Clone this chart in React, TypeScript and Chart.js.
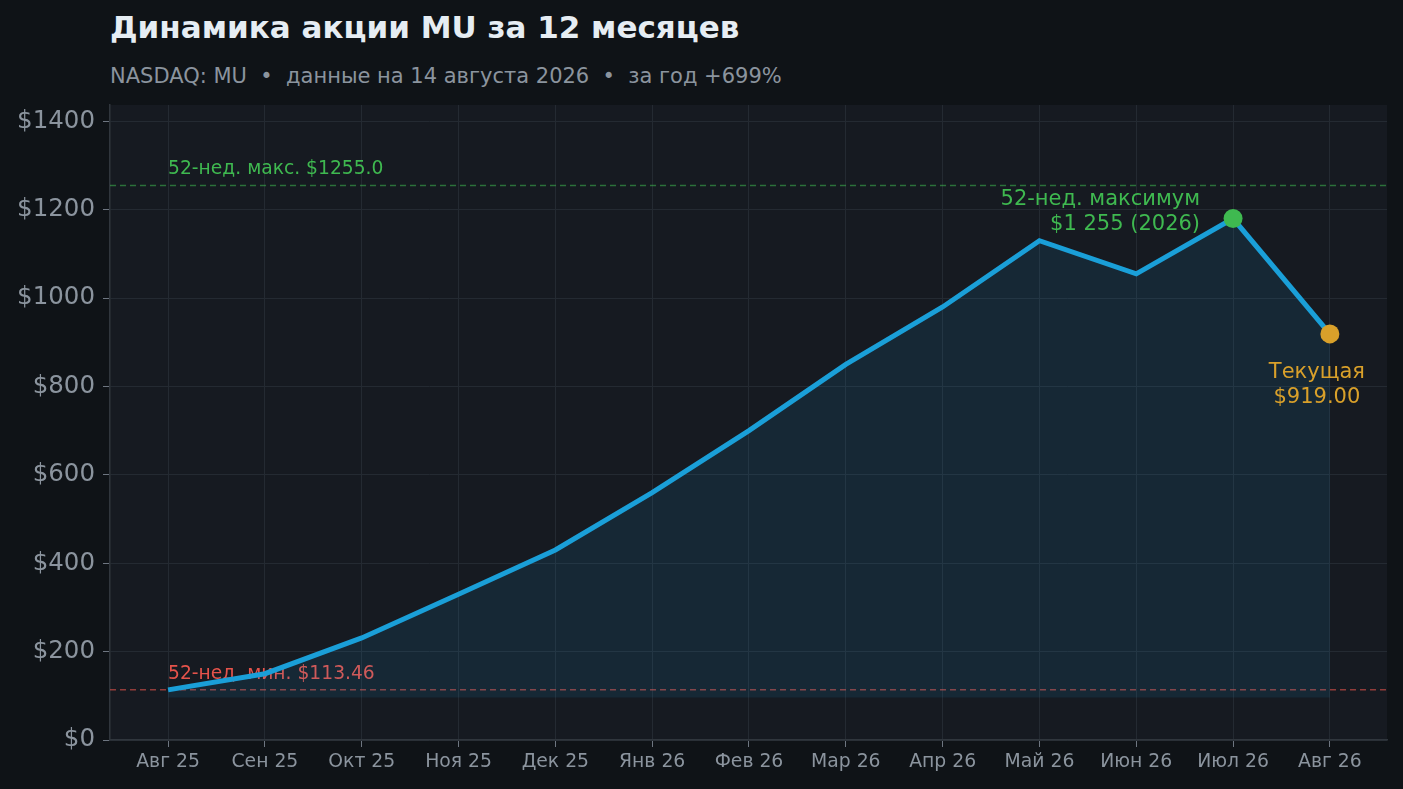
import { useEffect, useRef } from "react";
import { Chart, registerables } from "chart.js";

Chart.register(...registerables);

const months = ["Авг 25", "Сен 25", "Окт 25", "Ноя 25", "Дек 25", "Янв 26", "Фев 26", "Мар 26", "Апр 26", "Май 26", "Июн 26", "Июл 26", "Авг 26"];
const prices = [113.46, 150, 231, 330, 430, 560, 700, 850, 980, 1130, 1055, 1180, 919];
const yTicks = [0, 200, 400, 600, 800, 1000, 1200, 1400];
const high52 = 1255.0;
const low52 = 113.46;
const highIndex = 11;
const currentIndex = 12;

const GREEN = "#3fb950";
const RED = "#e5534b";
const ORANGE = "#d9a02a";
const MUTED = "#8b949e";

const App = () => {
  const canvasRef = useRef<HTMLCanvasElement>(null);

  useEffect(() => {
    document.body.style.margin = "0";
    const ctx = canvasRef.current?.getContext("2d");
    if (!ctx) return;

    const backdrop = {
      id: "backdrop",
      beforeDraw(chart: any) {
        const { ctx, chartArea } = chart;
        ctx.save();
        ctx.fillStyle = "#161a21";
        ctx.fillRect(chartArea.left, chartArea.top, chartArea.right - chartArea.left, chartArea.bottom - chartArea.top);
        ctx.restore();
      },
    };

    const refLines = {
      id: "refLines",
      beforeDatasetsDraw(chart: any) {
        const { ctx, chartArea, scales } = chart;
        const x0 = scales.x.getPixelForValue(0);
        const lines = [
          { v: high52, line: "rgba(63,185,80,0.55)", text: GREEN, label: `52-нед. макс. $${high52.toFixed(1)}` },
          { v: low52, line: "rgba(229,83,75,0.6)", text: RED, label: `52-нед. мин. $${low52.toFixed(2)}` },
        ];
        ctx.save();
        for (const l of lines) {
          const y = scales.y.getPixelForValue(l.v);
          ctx.strokeStyle = l.line;
          ctx.lineWidth = 1.5;
          ctx.setLineDash([6, 4]);
          ctx.beginPath();
          ctx.moveTo(chartArea.left, y);
          ctx.lineTo(chartArea.right, y);
          ctx.stroke();
          ctx.setLineDash([]);
          ctx.fillStyle = l.text;
          ctx.font = "18.7px 'DejaVu Sans'";
          ctx.textAlign = "left";
          ctx.textBaseline = "middle";
          ctx.fillText(l.label, x0, y - 16);
        }
        ctx.restore();
      },
    };

    const callouts = {
      id: "callouts",
      afterDatasetsDraw(chart: any) {
        const { ctx, scales } = chart;
        const hx = scales.x.getPixelForValue(highIndex);
        const hy = scales.y.getPixelForValue(prices[highIndex]);
        const cx = scales.x.getPixelForValue(currentIndex);
        const cy = scales.y.getPixelForValue(prices[currentIndex]);
        ctx.save();
        ctx.font = "21px 'DejaVu Sans'";
        ctx.textBaseline = "middle";
        ctx.fillStyle = GREEN;
        ctx.textAlign = "right";
        ctx.fillText("52-нед. максимум", hx - 33, hy - 19);
        ctx.fillText("$1 255 (2026)", hx - 33, hy + 6);
        ctx.fillStyle = ORANGE;
        ctx.textAlign = "center";
        ctx.fillText("Текущая", cx - 13, cy + 39);
        ctx.fillText(`$${prices[currentIndex].toFixed(2)}`, cx - 13, cy + 64);
        ctx.restore();
      },
    };

    const chart = new Chart(ctx, {
      type: "line",
      data: {
        datasets: [
          {
            data: prices.map((p, i) => ({ x: i, y: p })),
            borderColor: "#1a9fd8",
            borderWidth: 5,
            backgroundColor: "rgba(26,159,216,0.11)",
            fill: { value: low52 * 0.85 },
            tension: 0,
            pointRadius: prices.map((_, i) => (i === highIndex || i === currentIndex ? 9.5 : 0)),
            pointBackgroundColor: prices.map((_, i) => (i === highIndex ? GREEN : ORANGE)),
            pointBorderWidth: 0,
          },
        ],
      },
      options: {
        animation: false,
        responsive: true,
        maintainAspectRatio: false,
        layout: { padding: { top: 105, right: 16, left: 0, bottom: 0 } },
        plugins: { legend: { display: false }, tooltip: { enabled: false } },
        scales: {
          x: {
            type: "linear",
            min: -0.6,
            max: 12.59,
            afterBuildTicks: (scale: any) => {
              scale.ticks = months.map((_, i) => ({ value: i }));
            },
            afterFit: (scale: any) => {
              scale.height = 49;
            },
            ticks: {
              callback: (v: any) => months[v] ?? "",
              color: MUTED,
              font: { size: 18.8, family: "DejaVu Sans" },
              padding: 4,
              autoSkip: false,
              maxRotation: 0,
            },
            grid: { color: "#242a32", tickColor: "#6e7681", tickLength: 7 },
            border: { color: "#30363d", width: 1.5 },
          },
          y: {
            min: 0,
            max: 1437,
            afterBuildTicks: (scale: any) => {
              scale.ticks = yTicks.map((v) => ({ value: v }));
            },
            afterFit: (scale: any) => {
              scale.width = 110;
            },
            ticks: {
              callback: (v: any) => `$${v}`,
              color: MUTED,
              font: { size: 24.5, family: "DejaVu Sans" },
              padding: 8,
            },
            grid: { color: "#242a32", tickColor: "#6e7681", tickLength: 7 },
            border: { color: "#30363d", width: 1.5 },
          },
        },
      },
      plugins: [backdrop, refLines, callouts],
    });

    return () => {
      chart.destroy();
    };
  }, []);

  return (
    <div style={{ position: "relative", width: 1403, height: 789, background: "#0f1317", fontFamily: "'DejaVu Sans', sans-serif" }}>
      <div style={{ position: "absolute", left: 110, top: 9, fontSize: 31, fontWeight: "bold", color: "#e6edf3", whiteSpace: "nowrap" }}>
        Динамика акции MU за 12 месяцев
      </div>
      <div style={{ position: "absolute", left: 110, top: 64, fontSize: 21, color: MUTED, whiteSpace: "pre" }}>
        {"NASDAQ: MU  •  данные на 14 августа 2026  •  за год +699%"}
      </div>
      <div style={{ position: "absolute", inset: 0 }}>
        <canvas ref={canvasRef}></canvas>
      </div>
    </div>
  );
};

export default App;
